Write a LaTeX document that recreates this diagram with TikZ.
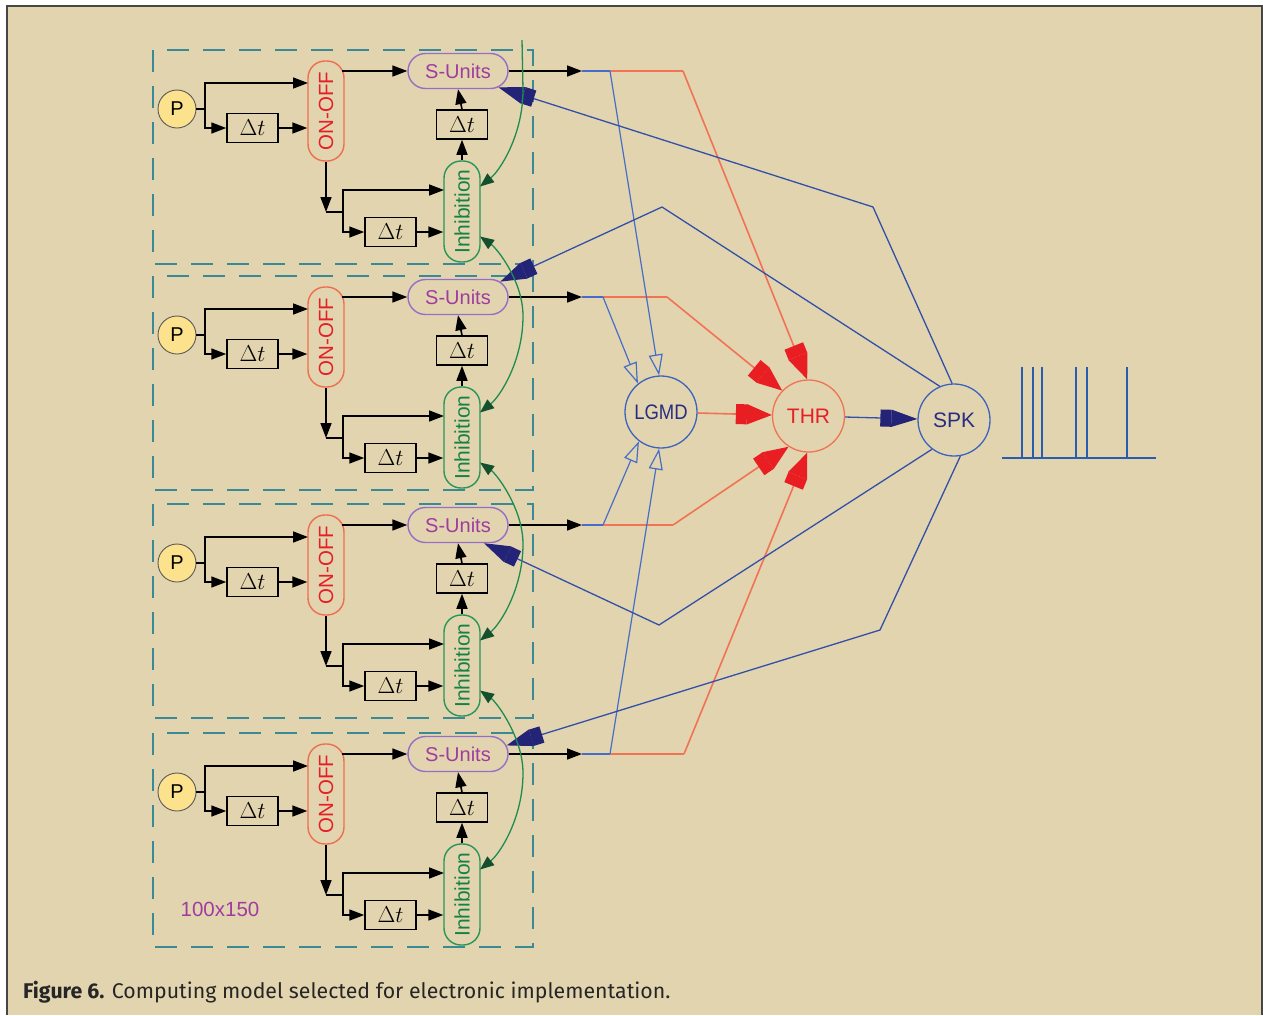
\RequirePackage{fix-cm}
\documentclass[tikz,border=0pt]{standalone}
\usepackage[no-math]{fontspec}
\newfontfamily\lsans{Liberation Sans}
\newfontfamily\capfont{Fira Sans}
\usepackage{graphicx}
\usetikzlibrary{arrows.meta,shapes.misc,calc}

\definecolor{beige}{RGB}{226,212,174}
\definecolor{dashteal}{RGB}{58,138,150}
\definecolor{pfill}{RGB}{252,226,140}
\definecolor{ootext}{RGB}{230,30,40}
\definecolor{oobord}{RGB}{238,110,80}
\definecolor{sptext}{RGB}{160,60,160}
\definecolor{spbord}{RGB}{150,110,200}
\definecolor{inhtext}{RGB}{20,130,70}
\definecolor{inhbord}{RGB}{40,150,90}
\definecolor{grline}{RGB}{30,140,80}
\definecolor{grfill}{RGB}{20,80,45}
\definecolor{lgblue}{RGB}{70,110,200}
\definecolor{spkblue}{RGB}{50,80,170}
\definecolor{navy}{RGB}{35,35,120}
\definecolor{orline}{RGB}{240,115,85}
\definecolor{arrred}{RGB}{232,30,35}
\definecolor{navytext}{RGB}{40,45,130}
\definecolor{cblue}{RGB}{60,100,190}
\definecolor{spikeblue}{RGB}{42,92,176}
\definecolor{frame}{RGB}{70,70,70}

\tikzset{
  blk/.style={draw=black, line width=1.6pt},
  blkarr/.style={blk, -{Triangle[length=15pt,width=11pt]}},
  dtbox/.style={draw=black, line width=1.5pt, minimum width=51pt, minimum height=29pt, inner sep=0pt, font=\fontsize{23}{24}\selectfont},
  pnode/.style={circle, draw=black!65, line width=0.9pt, fill=pfill, minimum size=38pt, inner sep=0pt, font=\lsans\fontsize{20}{22}\selectfont},
  oonode/.style={draw=oobord, line width=1.4pt, rounded corners=17pt, minimum width=36pt, minimum height=100pt, inner sep=0pt, text=ootext, font=\lsans\fontsize{20.5}{22}\selectfont},
  inhnode/.style={draw=inhbord, line width=1.4pt, rounded corners=17pt, minimum width=36pt, minimum height=101pt, inner sep=0pt, text=inhtext, font=\lsans\fontsize{21}{22}\selectfont},
  snode/.style={rounded rectangle, draw=spbord, line width=1.4pt, minimum width=100pt, minimum height=35pt, inner xsep=0pt, inner ysep=0pt, text=sptext, font=\lsans\fontsize{20}{22}\selectfont},
  bigc/.style={circle, line width=1.3pt, minimum size=72pt, inner sep=0pt, font=\lsans\fontsize{21}{22}\selectfont},
  dbox/.style={draw=dashteal, line width=1.8pt, dash pattern=on 22pt off 14pt},
  lgl/.style={draw=lgblue, line width=1.2pt},
  spkl/.style={draw=spkblue, line width=1.3pt},
  orl/.style={draw=orline, line width=1.6pt},
  grl/.style={draw=grline, line width=1.3pt},
  openarr/.style={-{Triangle[open,length=21pt,width=14pt,color=lgblue,line width=1.2pt]}},
  redarr/.style={-{Square[length=11pt,width=20pt,color=arrred,sep=0pt]Triangle[length=25pt,width=20pt,color=arrred,sep=0pt]}},
  navyarr/.style={-{Square[length=11pt,width=17pt,color=navy,sep=0pt]Triangle[length=26pt,width=17pt,color=navy,sep=0pt]}},
  grtip/.tip={Triangle[length=14pt,width=11pt,color=grfill]},
  spk/.style={draw=spikeblue, line width=1.8pt},
}

\newcommand{\blockat}[2]{%
  \draw[dbox] (153,{50+#2}) rectangle (533,{264+#2});
  \node[pnode] (P#1) at (177,{109+#2}) {P};
  \node[dtbox] (dA#1) at (252.5,{128+#2}) {$\Delta t$};
  \node[oonode] (OO#1) at (326,{111+#2}) {\rotatebox{90}{ON-OFF}};
  \node[snode] (S#1) at (458,{71+#2}) {S-Units};
  \node[dtbox] (dC#1) at (462,{124.5+#2}) {$\Delta t$};
  \node[inhnode] (I#1) at (462,{211.5+#2}) {\rotatebox{90}{Inhibition}};
  \node[dtbox] (dB#1) at (390.5,{232+#2}) {$\Delta t$};
  \coordinate (ja#1) at (205,{109+#2});
  \coordinate (jb#1) at (326,{212+#2});
  \coordinate (jc#1) at (343,{212+#2});
  \coordinate (oos#1) at (342,{71+#2});
  \coordinate (oou#1) at (308,{83+#2});
  \coordinate (inu#1) at (444,{190+#2});
  \coordinate (o#1) at (582,{71+#2});
  \coordinate (gu#1) at (480,{186.5+#2});
  \coordinate (gl#1) at (480,{236.5+#2});
  \draw[blk] (P#1) -- (ja#1);
  \draw[blkarr] (ja#1) |- (oou#1);
  \draw[blkarr] (ja#1) |- (dA#1.west);
  \draw[blkarr] (dA#1.east) -- (dA#1.east -| OO#1.west);
  \draw[blkarr] (oos#1) -- (S#1.west);
  \draw[blkarr] (OO#1.south) -- (jb#1);
  \draw[blk] (jb#1) -- (jc#1);
  \draw[blkarr] (jc#1) |- (inu#1);
  \draw[blkarr] (jc#1) |- (dB#1.west);
  \draw[blkarr] (dB#1.east) -- (dB#1.east -| I#1.west);
  \draw[blkarr] (I#1.north) -- (dC#1.south);
  \draw[blkarr] (dC#1.north) -- (S#1.south);
  \draw[blkarr] (S#1.east) -- (o#1);
}

\begin{document}
\begin{tikzpicture}[x=1pt,y=-1pt]
\useasboundingbox (0,0) rectangle (1263,1015);
\fill[white] (0,0) rectangle (1263,1015);
\fill[beige] (7,6) rectangle (1262,1015);
\draw[frame, line width=2pt] (7,1015) -- (7,6) -- (1262,6) -- (1262,1015);

\blockat{1}{0}
\blockat{2}{226}
\blockat{3}{454}
\blockat{4}{683}

\node[font=\lsans\fontsize{20.5}{22}\selectfont, text=sptext] (dim) at (220,909) {100x150};

% central neurons
\node[bigc, draw=cblue, text=navytext] (LGMD) at (661,412) {\scalebox{0.88}[1]{LGMD}};
\node[bigc, draw=orline, text=ootext] (THR) at (808.5,416) {THR};
\node[bigc, draw=cblue, text=navytext] (SPK) at (954,420) {SPK};

% branch points
\coordinate (b1) at (610,71);  \coordinate (r1) at (683,71);
\coordinate (b2) at (603,297); \coordinate (r2) at (667,297);
\coordinate (b3) at (603,525); \coordinate (r3) at (673,525);
\coordinate (b4) at (610,754); \coordinate (r4) at (684,754);

\foreach \i in {1,2,3,4}{
  \draw[lgl] (o\i) -- (b\i);
  \draw[orl] (b\i) -- (r\i);
}
\draw[lgl, openarr] (b1) -- (LGMD.93);
\draw[lgl, openarr] (b2) -- (LGMD.129);
\draw[lgl, openarr] (b3) -- (LGMD.233);
\draw[lgl, openarr] (b4) -- (LGMD.267);

\draw[orl, redarr] (r1) -- (THR.92);
\draw[orl, redarr] (r2) -- (THR.136);
\draw[orl, redarr] (r3) -- (THR.237);
\draw[orl, redarr] (r4) -- (THR.268);
\draw[orl, redarr] (LGMD) -- (THR);

\draw[spkl, navyarr] (THR) -- (SPK);

% feedback from SPK
\coordinate (k1) at (873,207);
\coordinate (k2) at (662,207);
\coordinate (k3) at (659,625);
\coordinate (k4) at (880,630);
\draw[spkl, navyarr] (SPK.93) -- (k1) -- (S1.-22);
\draw[spkl, navyarr] (SPK.113) -- (k2) -- (S2.20);
\draw[spkl, navyarr] (SPK.233) -- (k3) -- (S3.-35);
\draw[spkl, navyarr] (SPK.280) -- (k4) -- (S4.10);

% lateral inhibition (green)
\coordinate (gtop) at (522,40);
\draw[grl, -grtip] (gtop) -- (523,90) .. controls (523,135) and (500,170.5) .. (gu1);
\draw[grl, grtip-grtip] (gl1) .. controls (497,248.5) and (523,281) .. (523,316) .. controls (523,361) and (500,396.5) .. (gu2);
\draw[grl, grtip-grtip] (gl2) .. controls (497,474.5) and (523,509) .. (523,544) .. controls (523,589) and (500,624.5) .. (gu3);
\draw[grl, grtip-grtip] (gl3) .. controls (497,702.5) and (523,738) .. (523,773) .. controls (523,818) and (500,853.5) .. (gu4);

% spike train
\draw[spk] (1002,458) -- (1156,458);
\foreach \x in {1022,1033,1042,1076,1087,1127}{
  \draw[spk] (\x,367) -- (\x,458);
}

% caption
\node[anchor=base west, inner sep=0pt, text=black!85, font=\capfont\fontsize{21.3}{24}\selectfont] (cap) at (23,998) {\textbf{Figure 6.} Computing model selected for electronic implementation.};
\end{tikzpicture}
\end{document}
